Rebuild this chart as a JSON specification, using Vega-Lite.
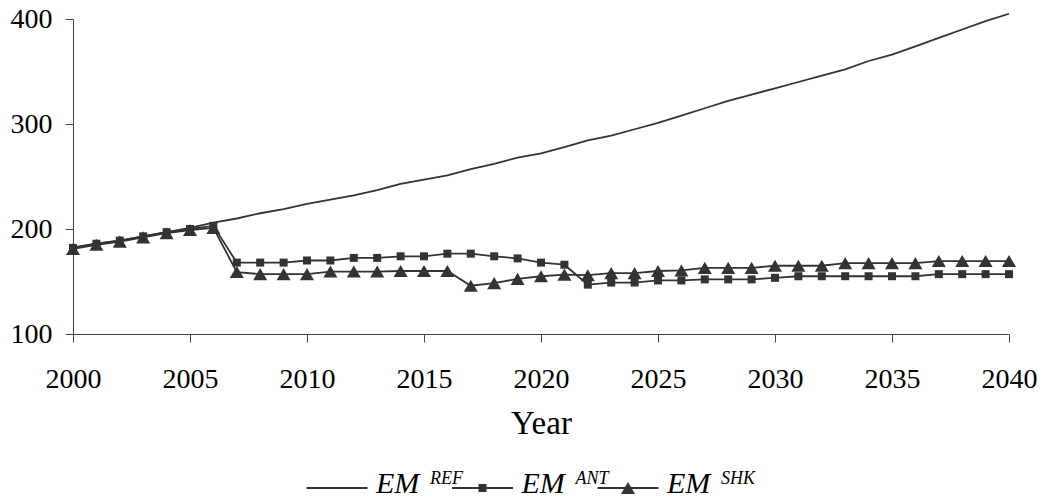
{
  "$schema": "https://vega.github.io/schema/vega-lite/v6.json",
  "background": "white",
  "padding": {"left": 10, "top": 5, "right": 5, "bottom": 0},
  "config": {
    "view": {"stroke": null},
    "font": "Liberation Serif",
    "axis": {"labelFont": "Liberation Serif", "titleFont": "Liberation Serif", "labelColor": "black", "titleColor": "black", "domainColor": "#444", "tickColor": "#444", "grid": false}
  },
  "spacing": 28,
  "datasets": {
    "main": [
      {"year": 2000, "REF": 182.5, "ANT": 182, "SHK": 181},
      {"year": 2001, "REF": 186, "ANT": 186, "SHK": 185},
      {"year": 2002, "REF": 189, "ANT": 189, "SHK": 188},
      {"year": 2003, "REF": 193, "ANT": 193, "SHK": 192},
      {"year": 2004, "REF": 197, "ANT": 197, "SHK": 196},
      {"year": 2005, "REF": 201, "ANT": 200, "SHK": 199},
      {"year": 2006, "REF": 206, "ANT": 203, "SHK": 201},
      {"year": 2007, "REF": 210, "ANT": 168, "SHK": 159},
      {"year": 2008, "REF": 215, "ANT": 168, "SHK": 157},
      {"year": 2009, "REF": 219, "ANT": 168, "SHK": 157},
      {"year": 2010, "REF": 224, "ANT": 170, "SHK": 157},
      {"year": 2011, "REF": 228, "ANT": 170, "SHK": 159.5},
      {"year": 2012, "REF": 232, "ANT": 172.5, "SHK": 159.5},
      {"year": 2013, "REF": 237, "ANT": 172.5, "SHK": 159.5},
      {"year": 2014, "REF": 243, "ANT": 174, "SHK": 160},
      {"year": 2015, "REF": 247, "ANT": 174, "SHK": 160},
      {"year": 2016, "REF": 251, "ANT": 176.5, "SHK": 160},
      {"year": 2017, "REF": 257, "ANT": 176.5, "SHK": 146},
      {"year": 2018, "REF": 262, "ANT": 174, "SHK": 148.5},
      {"year": 2019, "REF": 268, "ANT": 172, "SHK": 152.5},
      {"year": 2020, "REF": 272, "ANT": 168, "SHK": 155},
      {"year": 2021, "REF": 278, "ANT": 166, "SHK": 156.5},
      {"year": 2022, "REF": 284.5, "ANT": 147, "SHK": 156},
      {"year": 2023, "REF": 289, "ANT": 149, "SHK": 158},
      {"year": 2024, "REF": 295, "ANT": 149, "SHK": 158},
      {"year": 2025, "REF": 301, "ANT": 151, "SHK": 160},
      {"year": 2026, "REF": 308, "ANT": 151, "SHK": 160.5},
      {"year": 2027, "REF": 315, "ANT": 152, "SHK": 163},
      {"year": 2028, "REF": 322, "ANT": 152, "SHK": 163},
      {"year": 2029, "REF": 328, "ANT": 152, "SHK": 163},
      {"year": 2030, "REF": 334, "ANT": 153.5, "SHK": 165},
      {"year": 2031, "REF": 340, "ANT": 155, "SHK": 165},
      {"year": 2032, "REF": 346, "ANT": 155, "SHK": 165},
      {"year": 2033, "REF": 352, "ANT": 155, "SHK": 167.5},
      {"year": 2034, "REF": 360, "ANT": 155, "SHK": 167.5},
      {"year": 2035, "REF": 366, "ANT": 155, "SHK": 167.5},
      {"year": 2036, "REF": 374, "ANT": 155, "SHK": 167.5},
      {"year": 2037, "REF": 382, "ANT": 157, "SHK": 169.5},
      {"year": 2038, "REF": 390, "ANT": 157, "SHK": 169.5},
      {"year": 2039, "REF": 398, "ANT": 157, "SHK": 169.5},
      {"year": 2040, "REF": 405, "ANT": 157, "SHK": 169.5}
    ],
    "legend": [
      {"series": "REF", "base": "EM"},
      {"series": "ANT", "base": "EM"},
      {"series": "SHK", "base": "EM"}
    ]
  },
  "vconcat": [
    {
      "width": 936,
      "height": 315,
      "data": {"name": "main"},
      "transform": [{"fold": ["REF", "ANT", "SHK"], "as": ["series", "value"]}],
      "encoding": {
        "x": {
          "field": "year", "type": "quantitative",
          "scale": {"domain": [2000, 2040], "nice": false, "zero": false},
          "axis": {"values": [2000, 2005, 2010, 2015, 2020, 2025, 2030, 2035, 2040], "format": "d", "title": "Year", "labelFontSize": 28, "titleFontSize": 33, "titleFontWeight": "normal", "tickSize": 8, "labelPadding": 23, "titlePadding": 14, "labelFlush": false, "labelOverlap": false}
        },
        "y": {
          "field": "value", "type": "quantitative",
          "scale": {"domain": [100, 400], "nice": false, "zero": false},
          "axis": {"values": [100, 200, 300, 400], "title": null, "labelFontSize": 28, "tickSize": 8, "labelPadding": 13}
        }
      },
      "layer": [
        {
          "mark": {"type": "line", "color": "#333", "strokeWidth": 1.8, "clip": false},
          "encoding": {"detail": {"field": "series"}}
        },
        {
          "transform": [{"filter": "datum.series == 'ANT'"}],
          "mark": {"type": "point", "shape": "square", "size": 64, "filled": true, "color": "#333", "opacity": 1}
        },
        {
          "transform": [{"filter": "datum.series == 'SHK'"}],
          "mark": {"type": "point", "shape": "triangle-up", "size": 196, "filled": true, "color": "#333", "opacity": 1}
        }
      ]
    },
    {
      "width": 936,
      "height": 40,
      "data": {"name": "legend"},
      "encoding": {
        "x": {"field": "series", "type": "nominal", "scale": {"type": "point", "padding": 0, "domain": ["REF", "ANT", "SHK"], "range": [264, 555]}, "axis": null}
      },
      "layer": [
        {"mark": {"type": "point", "shape": "stroke", "size": 3721, "filled": false, "stroke": "#333", "strokeWidth": 1.8, "opacity": 1}},
        {"transform": [{"filter": "datum.series == 'ANT'"}], "mark": {"type": "point", "shape": "square", "size": 64, "filled": true, "color": "#333", "opacity": 1}},
        {"transform": [{"filter": "datum.series == 'SHK'"}], "mark": {"type": "point", "shape": "triangle-up", "size": 196, "filled": true, "color": "#333", "opacity": 1}},
        {"mark": {"type": "text", "align": "left", "baseline": "alphabetic", "dx": 39, "dy": 5, "fontSize": 30, "fontStyle": "italic", "font": "Liberation Serif", "color": "black"}, "encoding": {"text": {"field": "base"}}},
        {"mark": {"type": "text", "align": "left", "baseline": "alphabetic", "dx": 93, "dy": -4, "fontSize": 18, "fontStyle": "italic", "font": "Liberation Serif", "color": "black"}, "encoding": {"text": {"field": "series"}}}
      ]
    }
  ]
}
